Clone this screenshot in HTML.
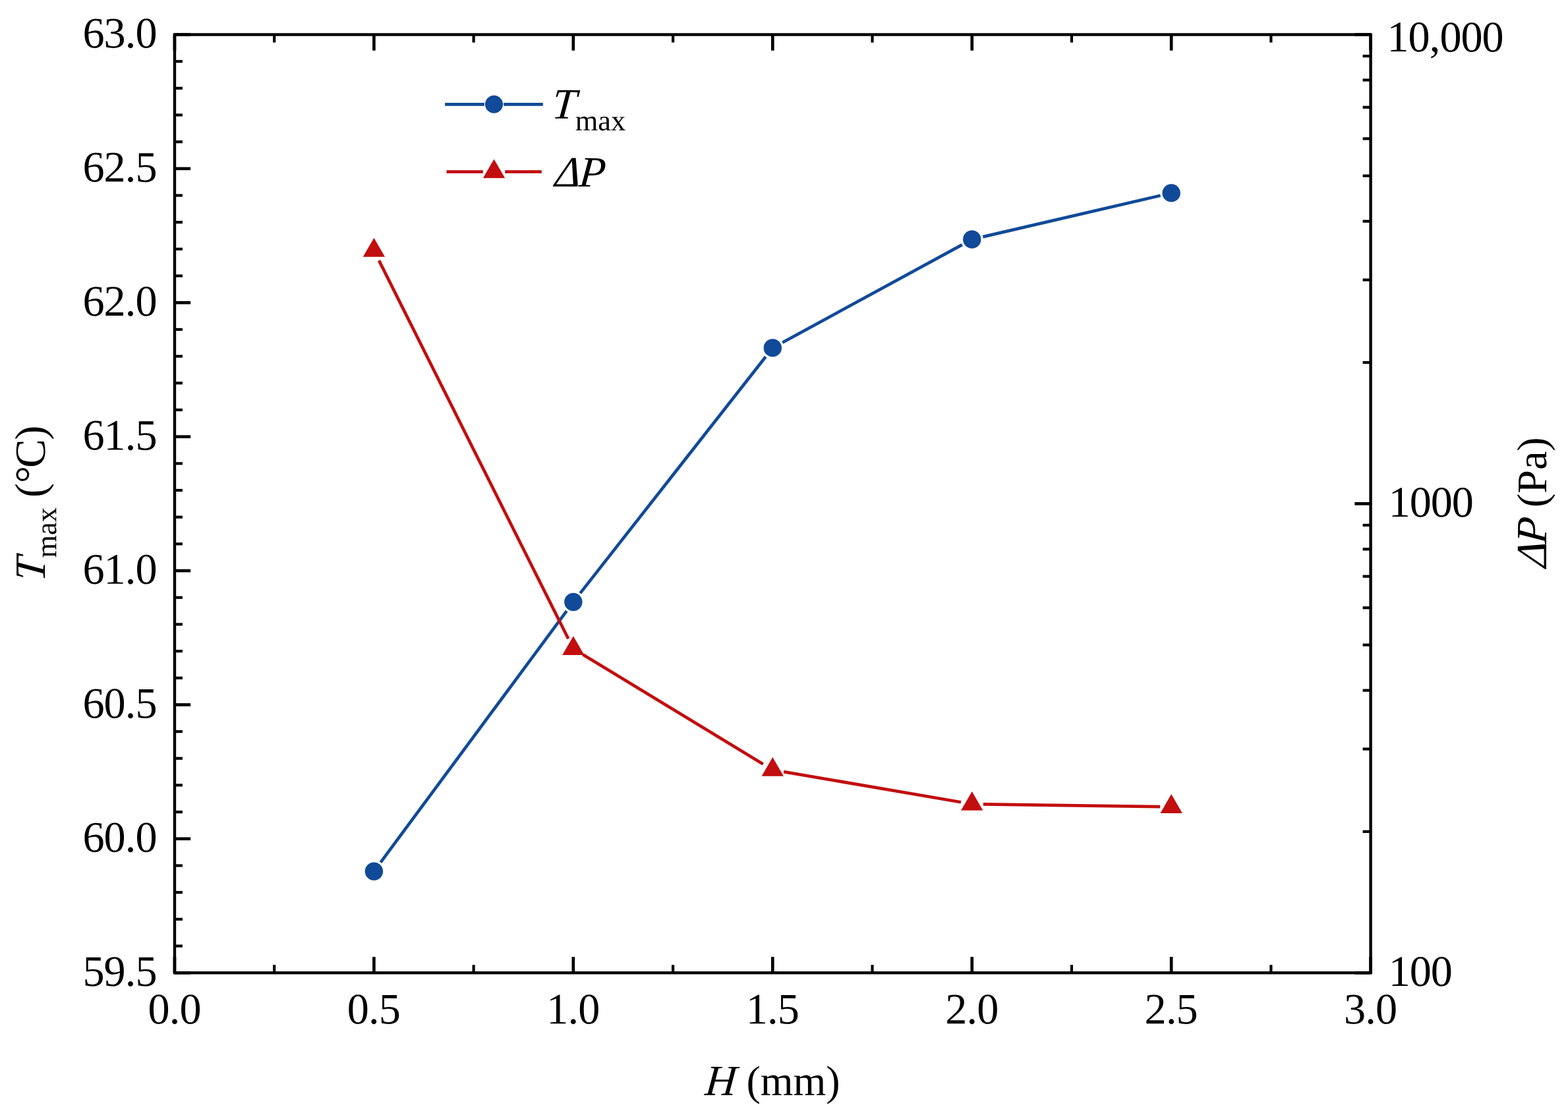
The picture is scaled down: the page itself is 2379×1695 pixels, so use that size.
<!DOCTYPE html>
<html lang="en">
<head>
<meta charset="utf-8">
<title>Maximum temperature and pressure drop versus channel height H</title>
<style>
html,body{margin:0;padding:0;background:#fff;}
body{width:2379px;height:1695px;overflow:hidden;}
svg{display:block;}
text{font-family:"Liberation Serif",serif;fill:#000;text-rendering:geometricPrecision;}
.i{font-style:italic;}
</style>
</head>
<body>
<svg width="2379" height="1695" viewBox="0 0 2379 1695" role="img" aria-label="Tmax and pressure drop versus H">
<rect x="0" y="0" width="2379" height="1695" fill="#ffffff"/>
<g stroke="#000" stroke-width="4.65" stroke-linecap="butt" fill="none">
<line x1="264.95" y1="1476.2" x2="264.95" y2="1452"/>
<line x1="264.95" y1="52.5" x2="264.95" y2="76.7"/>
<line x1="567.39" y1="1476.2" x2="567.39" y2="1452"/>
<line x1="567.39" y1="52.5" x2="567.39" y2="76.7"/>
<line x1="869.83" y1="1476.2" x2="869.83" y2="1452"/>
<line x1="869.83" y1="52.5" x2="869.83" y2="76.7"/>
<line x1="1172.27" y1="1476.2" x2="1172.27" y2="1452"/>
<line x1="1172.27" y1="52.5" x2="1172.27" y2="76.7"/>
<line x1="1474.72" y1="1476.2" x2="1474.72" y2="1452"/>
<line x1="1474.72" y1="52.5" x2="1474.72" y2="76.7"/>
<line x1="1777.16" y1="1476.2" x2="1777.16" y2="1452"/>
<line x1="1777.16" y1="52.5" x2="1777.16" y2="76.7"/>
<line x1="2079.6" y1="1476.2" x2="2079.6" y2="1452"/>
<line x1="2079.6" y1="52.5" x2="2079.6" y2="76.7"/>
<line x1="264.95" y1="1476.2" x2="289.15" y2="1476.2"/>
<line x1="264.95" y1="1272.81" x2="289.15" y2="1272.81"/>
<line x1="264.95" y1="1069.43" x2="289.15" y2="1069.43"/>
<line x1="264.95" y1="866.04" x2="289.15" y2="866.04"/>
<line x1="264.95" y1="662.66" x2="289.15" y2="662.66"/>
<line x1="264.95" y1="459.27" x2="289.15" y2="459.27"/>
<line x1="264.95" y1="255.89" x2="289.15" y2="255.89"/>
<line x1="264.95" y1="52.5" x2="289.15" y2="52.5"/>
<line x1="2079.6" y1="1476.2" x2="2055.4" y2="1476.2"/>
<line x1="2079.6" y1="764.35" x2="2055.4" y2="764.35"/>
<line x1="2079.6" y1="52.5" x2="2055.4" y2="52.5"/>
</g>
<g stroke="#000" stroke-width="4.2" stroke-linecap="butt" fill="none">
<line x1="416.17" y1="1476.2" x2="416.17" y2="1464.2"/>
<line x1="416.17" y1="52.5" x2="416.17" y2="64.5"/>
<line x1="718.61" y1="1476.2" x2="718.61" y2="1464.2"/>
<line x1="718.61" y1="52.5" x2="718.61" y2="64.5"/>
<line x1="1021.05" y1="1476.2" x2="1021.05" y2="1464.2"/>
<line x1="1021.05" y1="52.5" x2="1021.05" y2="64.5"/>
<line x1="1323.5" y1="1476.2" x2="1323.5" y2="1464.2"/>
<line x1="1323.5" y1="52.5" x2="1323.5" y2="64.5"/>
<line x1="1625.94" y1="1476.2" x2="1625.94" y2="1464.2"/>
<line x1="1625.94" y1="52.5" x2="1625.94" y2="64.5"/>
<line x1="1928.38" y1="1476.2" x2="1928.38" y2="1464.2"/>
<line x1="1928.38" y1="52.5" x2="1928.38" y2="64.5"/>
<line x1="264.95" y1="1435.52" x2="276.95" y2="1435.52"/>
<line x1="264.95" y1="1394.85" x2="276.95" y2="1394.85"/>
<line x1="264.95" y1="1354.17" x2="276.95" y2="1354.17"/>
<line x1="264.95" y1="1313.49" x2="276.95" y2="1313.49"/>
<line x1="264.95" y1="1232.14" x2="276.95" y2="1232.14"/>
<line x1="264.95" y1="1191.46" x2="276.95" y2="1191.46"/>
<line x1="264.95" y1="1150.78" x2="276.95" y2="1150.78"/>
<line x1="264.95" y1="1110.11" x2="276.95" y2="1110.11"/>
<line x1="264.95" y1="1028.75" x2="276.95" y2="1028.75"/>
<line x1="264.95" y1="988.07" x2="276.95" y2="988.07"/>
<line x1="264.95" y1="947.4" x2="276.95" y2="947.4"/>
<line x1="264.95" y1="906.72" x2="276.95" y2="906.72"/>
<line x1="264.95" y1="825.37" x2="276.95" y2="825.37"/>
<line x1="264.95" y1="784.69" x2="276.95" y2="784.69"/>
<line x1="264.95" y1="744.01" x2="276.95" y2="744.01"/>
<line x1="264.95" y1="703.33" x2="276.95" y2="703.33"/>
<line x1="264.95" y1="621.98" x2="276.95" y2="621.98"/>
<line x1="264.95" y1="581.3" x2="276.95" y2="581.3"/>
<line x1="264.95" y1="540.63" x2="276.95" y2="540.63"/>
<line x1="264.95" y1="499.95" x2="276.95" y2="499.95"/>
<line x1="264.95" y1="418.59" x2="276.95" y2="418.59"/>
<line x1="264.95" y1="377.92" x2="276.95" y2="377.92"/>
<line x1="264.95" y1="337.24" x2="276.95" y2="337.24"/>
<line x1="264.95" y1="296.56" x2="276.95" y2="296.56"/>
<line x1="264.95" y1="215.21" x2="276.95" y2="215.21"/>
<line x1="264.95" y1="174.53" x2="276.95" y2="174.53"/>
<line x1="264.95" y1="133.85" x2="276.95" y2="133.85"/>
<line x1="264.95" y1="93.18" x2="276.95" y2="93.18"/>
<line x1="2079.6" y1="1261.91" x2="2067.6" y2="1261.91"/>
<line x1="2079.6" y1="1136.56" x2="2067.6" y2="1136.56"/>
<line x1="2079.6" y1="1047.62" x2="2067.6" y2="1047.62"/>
<line x1="2079.6" y1="978.64" x2="2067.6" y2="978.64"/>
<line x1="2079.6" y1="922.27" x2="2067.6" y2="922.27"/>
<line x1="2079.6" y1="874.62" x2="2067.6" y2="874.62"/>
<line x1="2079.6" y1="833.34" x2="2067.6" y2="833.34"/>
<line x1="2079.6" y1="796.92" x2="2067.6" y2="796.92"/>
<line x1="2079.6" y1="550.06" x2="2067.6" y2="550.06"/>
<line x1="2079.6" y1="424.71" x2="2067.6" y2="424.71"/>
<line x1="2079.6" y1="335.77" x2="2067.6" y2="335.77"/>
<line x1="2079.6" y1="266.79" x2="2067.6" y2="266.79"/>
<line x1="2079.6" y1="210.42" x2="2067.6" y2="210.42"/>
<line x1="2079.6" y1="162.77" x2="2067.6" y2="162.77"/>
<line x1="2079.6" y1="121.49" x2="2067.6" y2="121.49"/>
<line x1="2079.6" y1="85.07" x2="2067.6" y2="85.07"/>
</g>
<rect x="264.95" y="52.5" width="1814.65" height="1423.7" fill="none" stroke="#000" stroke-width="4.4" stroke-linejoin="miter"/>
<g stroke="#114A98" stroke-width="4.7" stroke-linecap="butt" fill="none">
<line x1="577.5" y1="1308.53" x2="859.72" y2="927.17"/>
<line x1="880.32" y1="900.12" x2="1161.78" y2="541.28"/>
<line x1="1187.2" y1="519.77" x2="1459.79" y2="371.33"/>
<line x1="1491.28" y1="359.35" x2="1760.6" y2="296.75"/>
</g>
<g fill="#114A98">
<circle cx="567.39" cy="1322.2" r="13.7"/>
<circle cx="869.83" cy="913.5" r="13.7"/>
<circle cx="1172.27" cy="527.9" r="13.7"/>
<circle cx="1474.72" cy="363.2" r="13.7"/>
<circle cx="1777.16" cy="292.9" r="13.7"/>
</g>
<g stroke="#C20E0E" stroke-width="4.7" stroke-linecap="butt" fill="none">
<line x1="575" y1="395.4" x2="862.22" y2="969.2"/>
<line x1="884.36" y1="993.23" x2="1157.75" y2="1159.42"/>
<line x1="1189.03" y1="1171.12" x2="1457.96" y2="1217.23"/>
<line x1="1491.72" y1="1220.34" x2="1760.16" y2="1224.06"/>
</g>
<g fill="#C20E0E">
<polygon points="567.39,361 584.04,389.8 550.74,389.8"/>
<polygon points="869.83,965.2 886.48,994 853.18,994"/>
<polygon points="1172.27,1149.05 1188.92,1177.85 1155.62,1177.85"/>
<polygon points="1474.72,1200.9 1491.37,1229.7 1458.07,1229.7"/>
<polygon points="1777.16,1205.1 1793.81,1233.9 1760.51,1233.9"/>
</g>
<g stroke-width="4.7" stroke-linecap="butt" fill="none">
<line x1="675.1" y1="158.3" x2="734.9" y2="158.3" stroke="#114A98"/>
<line x1="764.1" y1="158.3" x2="823.8" y2="158.3" stroke="#114A98"/>
<line x1="677.5" y1="260.6" x2="732.8" y2="260.6" stroke="#C20E0E"/>
<line x1="766.2" y1="260.6" x2="821.8" y2="260.6" stroke="#C20E0E"/>
</g>
<circle cx="749.5" cy="158.3" r="13.5" fill="#114A98"/>
<g fill="#C20E0E"><polygon points="749.5,241.4 766.15,270.2 732.85,270.2"/></g>
<text transform="matrix(1 0.0005 -0.08749 1 836.3 179.85)" font-size="65.5" class="i">T</text>
<text transform="matrix(1 0.0005 0 1 872.8 197.7)" font-size="44.4">max</text>
<text transform="matrix(1 0.0005 -0.08749 1 840.9 282.9)" font-size="65.5" class="i">Δ</text>
<text transform="matrix(1 0.0005 -0.08749 1 877.2 282.9)" font-size="65.5" class="i">P</text>
<text transform="matrix(1 0.0005 0 1 126 1495.9)" font-size="66.2" x="-0.55 31.45 63.73 79.45">59.5</text>
<text transform="matrix(1 0.0005 0 1 126 1292.51)" font-size="66.2" x="-0.55 31.45 63.73 79.45">60.0</text>
<text transform="matrix(1 0.0005 0 1 126 1089.13)" font-size="66.2" x="-0.55 31.45 63.73 79.45">60.5</text>
<text transform="matrix(1 0.0005 0 1 126 885.74)" font-size="66.2" x="-0.55 31.45 63.73 79.45">61.0</text>
<text transform="matrix(1 0.0005 0 1 126 682.36)" font-size="66.2" x="-0.55 31.45 63.73 79.45">61.5</text>
<text transform="matrix(1 0.0005 0 1 126 478.97)" font-size="66.2" x="-0.55 31.45 63.73 79.45">62.0</text>
<text transform="matrix(1 0.0005 0 1 126 275.59)" font-size="66.2" x="-0.55 31.45 63.73 79.45">62.5</text>
<text transform="matrix(1 0.0005 0 1 126 72.2)" font-size="66.2" x="-0.55 31.45 63.73 79.45">63.0</text>
<text transform="matrix(1 0.0005 0 1 224.95 1553.3)" font-size="66.2" x="-0.55 31.73 47.45">0.0</text>
<text transform="matrix(1 0.0005 0 1 527.39 1553.3)" font-size="66.2" x="-0.55 31.73 47.45">0.5</text>
<text transform="matrix(1 0.0005 0 1 829.83 1553.3)" font-size="66.2" x="-0.55 31.73 47.45">1.0</text>
<text transform="matrix(1 0.0005 0 1 1132.27 1553.3)" font-size="66.2" x="-0.55 31.73 47.45">1.5</text>
<text transform="matrix(1 0.0005 0 1 1434.72 1553.3)" font-size="66.2" x="-0.55 31.73 47.45">2.0</text>
<text transform="matrix(1 0.0005 0 1 1737.16 1553.3)" font-size="66.2" x="-0.55 31.73 47.45">2.5</text>
<text transform="matrix(1 0.0005 0 1 2039.6 1553.3)" font-size="66.2" x="-0.55 31.73 47.45">3.0</text>
<text transform="matrix(1 0.0005 0 1 2105 78.1)" font-size="66.2" x="-0.55 31.45 63.73 79.45 111.45 143.45">10,000</text>
<text transform="matrix(1 0.0005 0 1 2107.2 784.05)" font-size="66.2" x="-0.55 31.45 63.45 95.45">1000</text>
<text transform="matrix(1 0.0005 0 1 2107.2 1495.9)" font-size="66.2" x="-0.55 31.45 63.45">100</text>
<text transform="matrix(1 0.0005 -0.08749 1 1068.6 1661.75)" font-size="65.5" class="i">H</text>
<text transform="matrix(1 0.0005 0 1 1132.4 1661.75)" font-size="64">(mm)</text>
<text transform="matrix(0.0005 -1 1 0.08749 67.9 883)" font-size="65.5" class="i">T</text>
<text transform="matrix(0.0005 -1 1 0 85.2 846.5)" font-size="44.4">max</text>
<text transform="matrix(0.0005 -1 1 0 67.9 754.9)" font-size="65.5" x="0 21.7 44.9 87.4">(°C)</text>
<text transform="matrix(0.0005 -1 1 0.08749 2345.9 861.7)" font-size="65.5" class="i">Δ</text>
<text transform="matrix(0.0005 -1 1 0.08749 2345.9 826.2)" font-size="65.5" class="i">P</text>
<text transform="matrix(0.0005 -1 1 0 2345.9 770)" font-size="64">(Pa)</text>
</svg>
</body>
</html>
